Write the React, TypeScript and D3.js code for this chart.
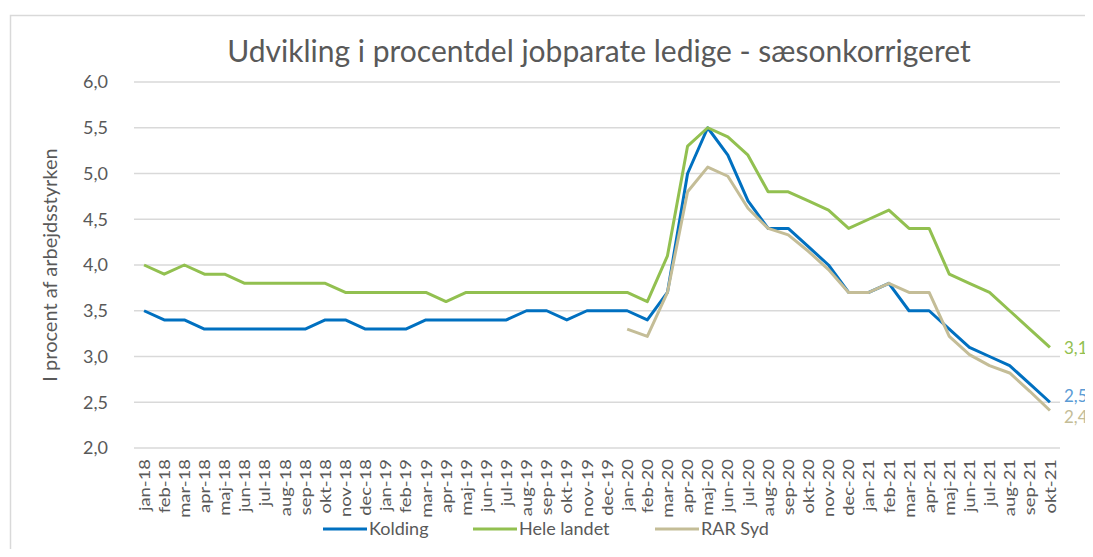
import React, { useEffect, useRef } from "react";
import * as d3 from "d3";

const months = ["jan", "feb", "mar", "apr", "maj", "jun", "jul", "aug", "sep", "okt", "nov", "dec"];
const categories: string[] = [];
["18", "19", "20", "21"].forEach((yr) => {
  months.forEach((m, i) => {
    if (yr === "21" && i > 9) return;
    categories.push(`${m}-${yr}`);
  });
});

const kolding = [
  3.5, 3.4, 3.4, 3.3, 3.3, 3.3, 3.3, 3.3, 3.3, 3.4, 3.4, 3.3,
  3.3, 3.3, 3.4, 3.4, 3.4, 3.4, 3.4, 3.5, 3.5, 3.4, 3.5, 3.5,
  3.5, 3.4, 3.7, 5.0, 5.5, 5.2, 4.7, 4.4, 4.4, 4.2, 4.0, 3.7,
  3.7, 3.8, 3.5, 3.5, 3.3, 3.1, 3.0, 2.9, 2.7, 2.5,
];
const heleLandet = [
  4.0, 3.9, 4.0, 3.9, 3.9, 3.8, 3.8, 3.8, 3.8, 3.8, 3.7, 3.7,
  3.7, 3.7, 3.7, 3.6, 3.7, 3.7, 3.7, 3.7, 3.7, 3.7, 3.7, 3.7,
  3.7, 3.6, 4.1, 5.3, 5.5, 5.4, 5.2, 4.8, 4.8, 4.7, 4.6, 4.4,
  4.5, 4.6, 4.4, 4.4, 3.9, 3.8, 3.7, 3.5, 3.3, 3.1,
];
// RAR Syd starts in jan-20
const rarSyd: (number | null)[] = [
  null, null, null, null, null, null, null, null, null, null, null, null,
  null, null, null, null, null, null, null, null, null, null, null, null,
  3.3, 3.22, 3.7, 4.8, 5.07, 4.97, 4.62, 4.4, 4.33, 4.15, 3.95, 3.7,
  3.7, 3.8, 3.7, 3.7, 3.22, 3.02, 2.9, 2.82, 2.62, 2.41,
];
const yTicks = [2.0, 2.5, 3.0, 3.5, 4.0, 4.5, 5.0, 5.5, 6.0];

const series = [
  { name: "Kolding", values: kolding, color: "#0070C0", labelColor: "#5B9BD5", last: "2,5", dy: -6 },
  { name: "Hele landet", values: heleLandet, color: "#92C050", labelColor: "#92C050", last: "3,1", dy: 1 },
  { name: "RAR Syd", values: rarSyd, color: "#C4BD97", labelColor: "#C4BD97", last: "2,4", dy: 7 },
];

const width = 1093;
const height = 557;
const font = "Lato, 'Open Sans', sans-serif";

const App = () => {
  const svgRef = useRef<SVGSVGElement | null>(null);

  useEffect(() => {
    const svg = d3.select(svgRef.current);
    svg.selectAll("*").remove();

    const x = d3.scaleBand().domain(categories).range([134, 1060]);
    const y = d3.scaleLinear().domain([2, 6]).range([448, 82]);

    // chart frame
    svg
      .append("rect")
      .attr("x", 10.5)
      .attr("y", 15.5)
      .attr("width", 1200)
      .attr("height", 600)
      .attr("fill", "#fff")
      .attr("stroke", "#d9d9d9")
      .attr("stroke-width", 1.5);

    // title
    svg
      .append("text")
      .attr("x", 599)
      .attr("y", 62)
      .attr("text-anchor", "middle")
      .style("font-family", font)
      .style("font-size", "30px")
      .style("fill", "#595959")
      .text("Udvikling i procentdel jobparate ledige - sæsonkorrigeret");

    // gridlines + y tick labels
    svg
      .append("g")
      .selectAll("line")
      .data(yTicks)
      .enter()
      .append("line")
      .attr("x1", 134)
      .attr("x2", 1060)
      .attr("y1", (d) => y(d))
      .attr("y2", (d) => y(d))
      .attr("stroke", "#d9d9d9")
      .attr("stroke-width", 1.5);

    svg
      .append("g")
      .selectAll("text")
      .data(yTicks)
      .enter()
      .append("text")
      .attr("x", 108)
      .attr("y", (d) => y(d))
      .attr("dy", "0.35em")
      .attr("text-anchor", "end")
      .style("font-family", font)
      .style("font-size", "18px")
      .style("fill", "#595959")
      .text((d) => d.toFixed(1).replace(".", ","));

    // y axis title
    svg
      .append("text")
      .attr("transform", "translate(57,265) rotate(-90)")
      .attr("text-anchor", "middle")
      .style("font-family", font)
      .style("font-size", "20px")
      .style("fill", "#595959")
      .text("I procent af arbejdsstyrken");

    // x labels (stretched along their length like the original)
    svg
      .append("g")
      .selectAll("text")
      .data(categories)
      .enter()
      .append("text")
      .attr("transform", (d) => `translate(${x(d)! + x.bandwidth() / 2},459) rotate(-90) scale(1.15,1)`)
      .attr("dy", "0.35em")
      .attr("text-anchor", "end")
      .style("font-family", font)
      .style("font-size", "16px")
      .style("fill", "#595959")
      .text((d) => d);

    // lines
    series.forEach((s) => {
      const line = d3
        .line<number | null>()
        .defined((d) => d !== null)
        .x((_, i) => x(categories[i])! + x.bandwidth() / 2)
        .y((d) => y(d as number));
      svg
        .append("path")
        .datum(s.values)
        .attr("fill", "none")
        .attr("stroke", s.color)
        .attr("stroke-width", 3)
        .attr("stroke-linejoin", "round")
        .attr("d", line);

      const lastIdx = s.values.length - 1;
      svg
        .append("text")
        .attr("x", x(categories[lastIdx])! + x.bandwidth() / 2 + 14)
        .attr("y", y(s.values[lastIdx] as number) + s.dy)
        .attr("dy", "0.35em")
        .style("font-family", font)
        .style("font-size", "17px")
        .style("fill", s.labelColor)
        .text(s.last);
    });

    // legend
    const legendX = [323, 473, 655];
    series.forEach((s, i) => {
      const g = svg.append("g").attr("transform", `translate(${legendX[i]},529)`);
      g.append("line")
        .attr("x1", 0)
        .attr("x2", 44)
        .attr("stroke", s.color)
        .attr("stroke-width", 3);
      g.append("text")
        .attr("x", 46)
        .attr("dy", "0.35em")
        .style("font-family", font)
        .style("font-size", "18px")
        .style("fill", "#595959")
        .text(s.name);
    });
  }, []);

  return <svg width={width} height={height} ref={svgRef} style={{ display: "block", margin: -8 }}></svg>;
};

export default App;
